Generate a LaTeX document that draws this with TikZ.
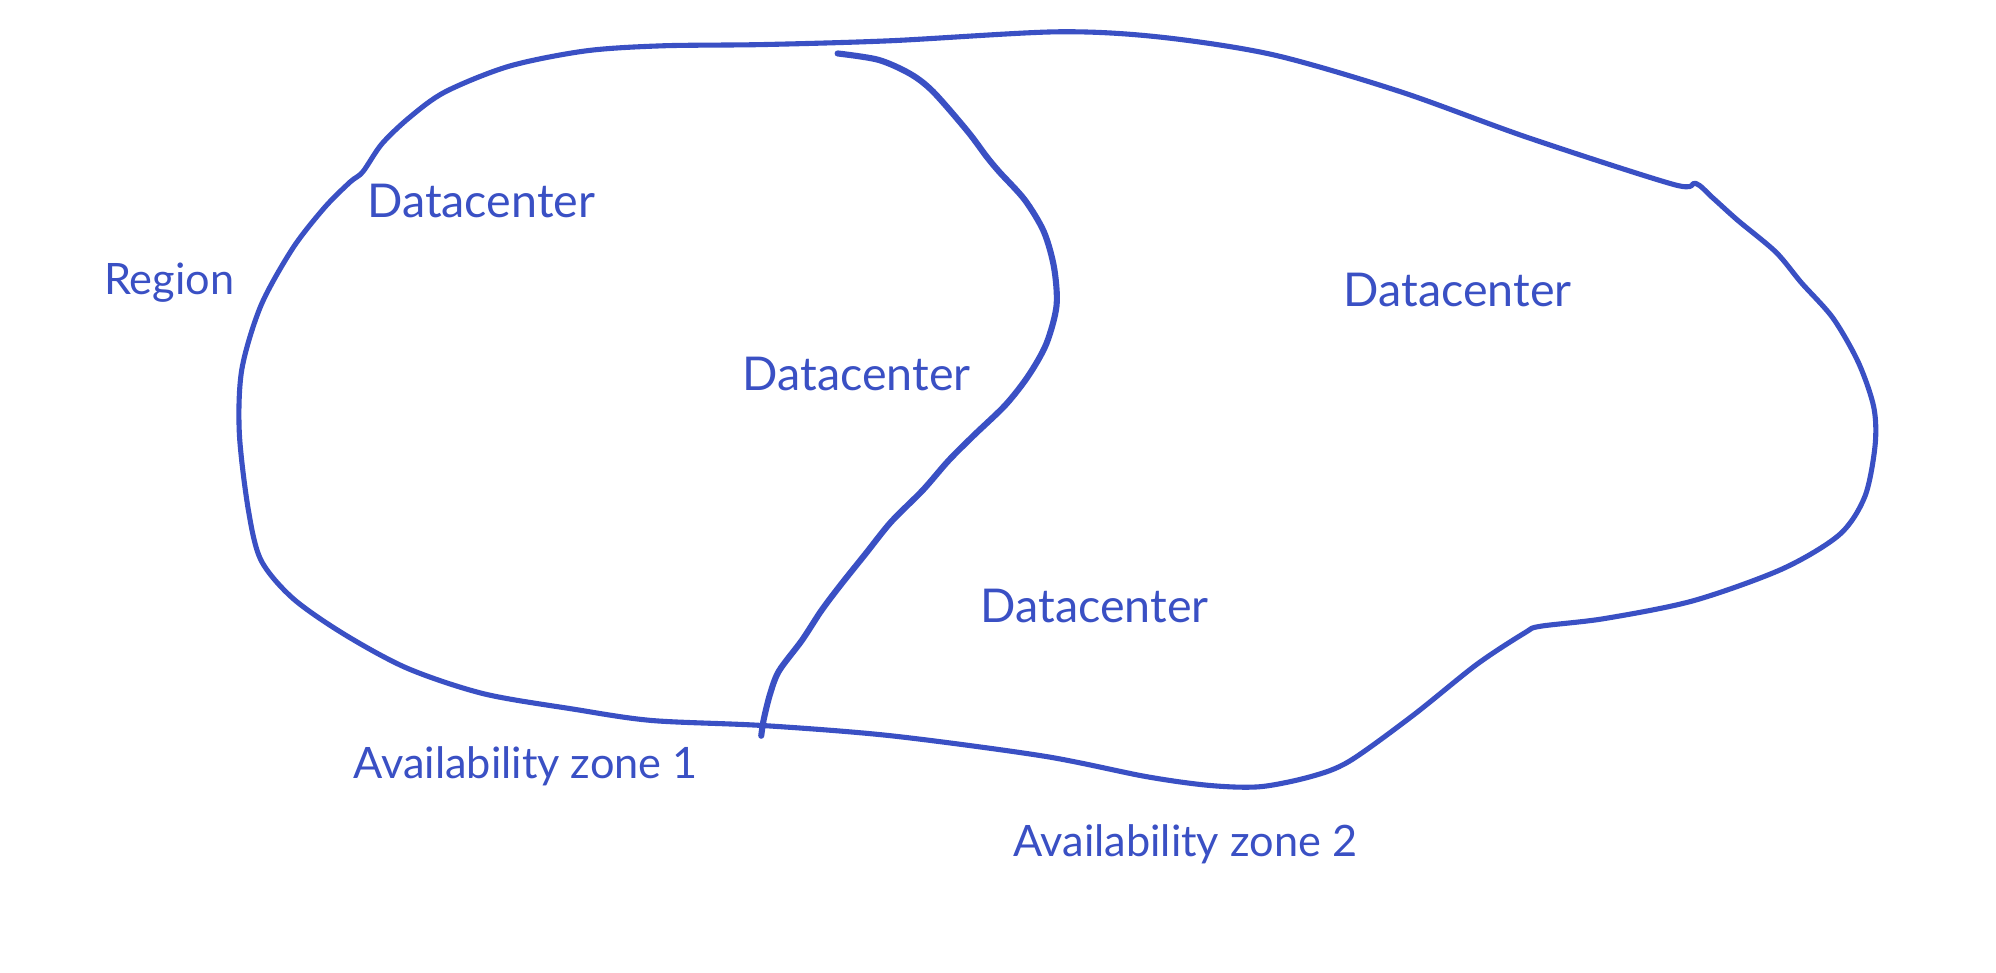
\documentclass[tikz,border=0pt]{standalone}
\usepackage{fontspec}
\setmainfont{Lato}
\definecolor{ink}{RGB}{58,80,196}
\begin{document}
\begin{tikzpicture}[x=0.5pt,y=-0.5pt,
  outline/.style={draw=ink,line width=2pt,line join=round,line cap=round},
  divider/.style={draw=ink,line width=2.4pt,line join=round,line cap=round},
  lbl/.style={text=ink,font=\fontsize{17}{20}\selectfont,inner sep=0pt},
  dclbl/.style={lbl,font=\fontsize{18.3}{22}\selectfont}]
\useasboundingbox[fill=white] (0,0) rectangle (1568,764);

% region outline
\draw[outline] plot[smooth cycle,tension=0.5] coordinates {
  (285,135) (300,113) (322,92) (350,72) (400,52) (460,40) (520,36)
  (600,35) (700,32) (830,25) (910,29) (1000,43) (1100,72) (1200,108)
  (1315,145) (1332,144) (1345,155) (1365,173) (1395,198)
  (1415,222) (1440,250) (1460,285) (1472,320) (1473,350) (1465,390)
  (1445,420) (1400,447) (1330,472) (1260,486) (1210,492) (1198,497)
  (1160,522) (1110,562) (1060,598) (1030,610) (990,618) (950,617)
  (900,610) (820,594) (700,578) (600,570) (512,566) (450,557)
  (380,545) (320,525) (270,498) (230,470) (205,440) (195,400)
  (188,340) (190,290) (205,240) (230,195) (255,163) (275,143)};

% boundary between the two zones
\draw[divider] plot[smooth,tension=0.5] coordinates {
  (658,42) (690,47) (715,58) (733,72) (760,103) (775,123)
  (785,135) (805,157) (820,182) (828,210) (830,240) (822,270)
  (808,295) (790,318) (765,342) (745,362) (725,385)
  (700,410) (680,435) (660,460) (645,480) (630,503) (612,527)
  (605,545) (600,565) (598,578)};

\node[lbl] (region) at (133,222) {Region};
\node[dclbl] (dc1) at (378,158) {Datacenter};
\node[dclbl] (dc2) at (673,294) {Datacenter};
\node[dclbl] (dc3) at (1145,228) {Datacenter};
\node[dclbl] (dc4) at (860,476) {Datacenter};
\node[lbl] (az1) at (413,602) {Availability zone 1};
\node[lbl] (az2) at (931,663) {Availability zone 2};
\end{tikzpicture}
\end{document}
